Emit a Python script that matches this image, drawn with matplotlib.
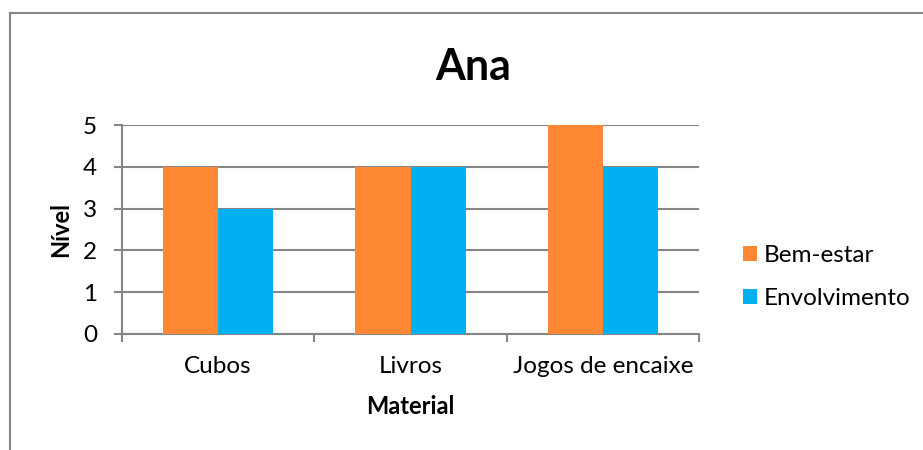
import matplotlib.pyplot as plt
import numpy as np
from matplotlib.lines import Line2D

materiais = ['Cubos', 'Livros', 'Jogos de encaixe']
bem_estar = [4, 4, 5]
envolvimento = [3, 4, 4]

plt.rcParams['font.family'] = ['Lato', 'DejaVu Sans']

fig = plt.figure(figsize=(9.23, 4.5), dpi=100)
ax = fig.add_axes([122 / 923, 1 - 334 / 450, (699 - 122) / 923, (334 - 125) / 450])

x = np.arange(len(materiais))
w = 0.286
ax.bar(x - w / 2, bem_estar, w, color='#FD8733', label='Bem-estar', zorder=3)
ax.bar(x + w / 2, envolvimento, w, color='#00B0F0', label='Envolvimento', zorder=3)

ax.set_xlim(-0.5, 2.5)
ax.set_ylim(0, 5)
ax.set_yticks(range(6))
ax.grid(axis='y', color='#868686', linewidth=1.5, zorder=0)
ax.set_xticks(x)
ax.set_xticklabels(materiais)
ax.set_xticks([-0.5, 0.5, 1.5, 2.5], minor=True)
ax.tick_params(axis='x', which='major', length=0, pad=16, labelsize=17.5)
ax.tick_params(axis='x', which='minor', length=6, width=1.5, color='#868686', direction='out')
ax.tick_params(axis='y', length=6, width=1.5, color='#868686', pad=12, labelsize=17.5)

for s in ['top', 'right']:
    ax.spines[s].set_visible(False)
for s in ['left', 'bottom']:
    ax.spines[s].set_color('#868686')
    ax.spines[s].set_linewidth(1.5)

ax.set_xlabel('Material', fontsize=17, fontweight='bold', labelpad=13)
ax.set_ylabel('Nível', fontsize=17, fontweight='bold', labelpad=8)
fig.text(473 / 923, 1 - 67 / 450, 'Ana', fontsize=31, fontweight='bold', ha='center', va='center')

ax.legend(loc='center left', bbox_to_anchor=(733 / 923, 1 - 277 / 450), bbox_transform=fig.transFigure,
          frameon=False, fontsize=17.5, handlelength=0.6, handleheight=0.6, handletextpad=0.25,
          labelspacing=0.9, borderaxespad=0)

# moldura do gráfico
fig.add_artist(Line2D([10 / 923, 10 / 923], [0, 1 - 13 / 450], color='#868686', linewidth=1.5,
                      transform=fig.transFigure))
fig.add_artist(Line2D([10 / 923, 1], [1 - 13 / 450, 1 - 13 / 450], color='#868686', linewidth=1.5,
                      transform=fig.transFigure))

fig.savefig('out.png', dpi=100)
